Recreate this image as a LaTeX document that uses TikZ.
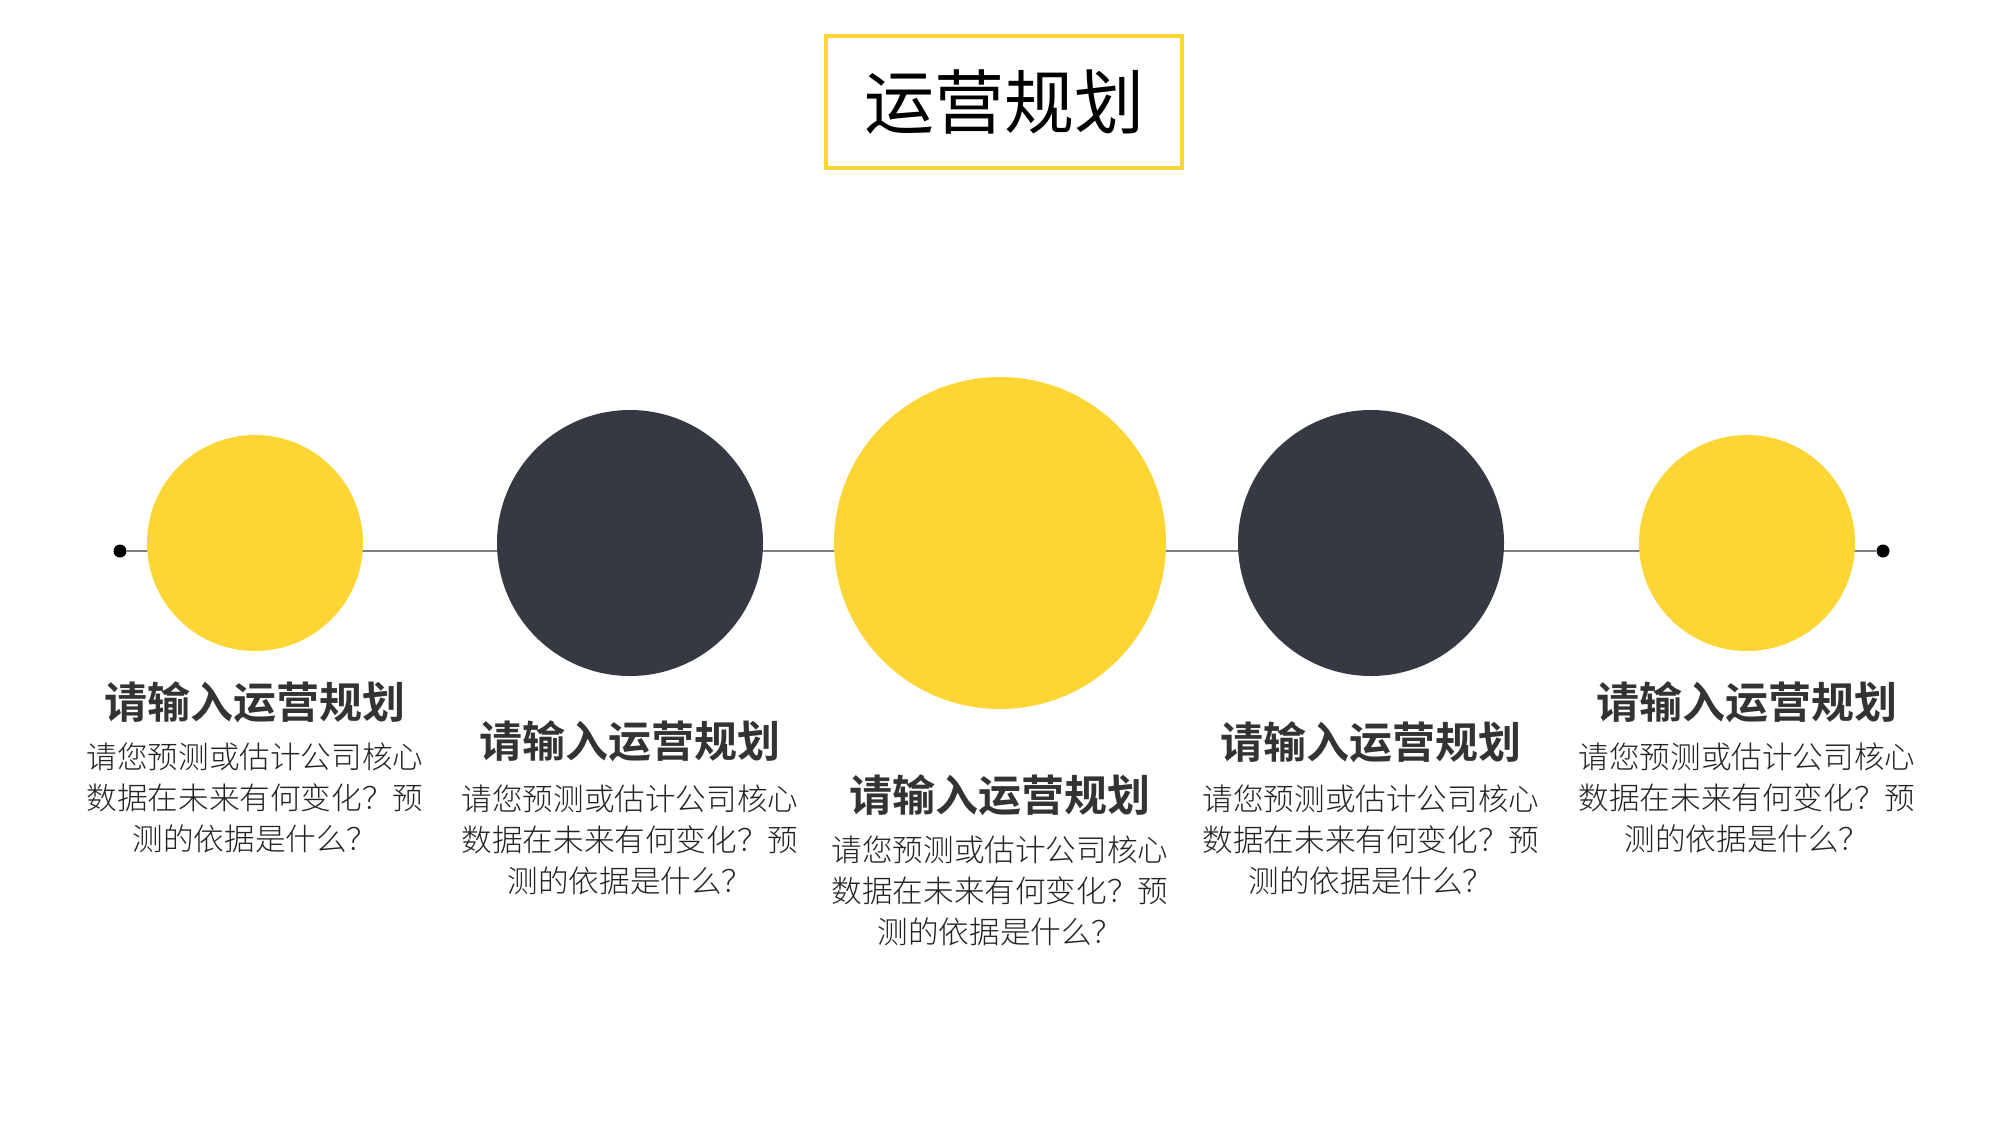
\documentclass[tikz,border=0pt]{standalone}
\usepackage{fontspec}
\newfontfamily\cjk{Noto Sans CJK SC}
\newfontfamily\cjkb{Noto Sans CJK SC Bold}
\newfontfamily\cjkl{Noto Sans CJK SC Light}
\definecolor{ylw}{HTML}{FDD535}
\definecolor{drk}{HTML}{363941}
\definecolor{txt}{HTML}{333333}
\definecolor{btxt}{HTML}{222222}
\definecolor{lne}{HTML}{808080}
\begin{document}
\begin{tikzpicture}[x=0.5pt,y=-0.5pt,
  ball/.style={circle,inner sep=0pt,minimum size=#1},
  headtxt/.style={text=txt,font=\cjkb\fontsize{21.5}{24}\selectfont,inner sep=0pt},
  bodytxt/.style={text=btxt,font=\cjkl\fontsize{15.3}{20.4}\selectfont,align=center,inner sep=0pt,anchor=north},
  endot/.style={circle,fill=black,inner sep=0pt,minimum size=6.5pt}]
\useasboundingbox (0,0) rectangle (2000,1124);
\node[draw=ylw,line width=2pt,minimum width=178pt,minimum height=66pt,inner sep=0pt] (title) at (1004,102)
  {\cjk\fontsize{35}{40}\selectfont 运营规划};
\node[endot] (dl) at (120,551) {};
\node[endot] (dr) at (1883,551) {};
\draw[lne,line width=1pt] (dl) -- (dr);
\node[ball=108pt,fill=ylw] (c1) at (255,543) {};
\node[ball=133pt,fill=drk] (c2) at (630,543) {};
\node[ball=166pt,fill=ylw] (c3) at (1000,543) {};
\node[ball=133pt,fill=drk] (c4) at (1371,543) {};
\node[ball=108pt,fill=ylw] (c5) at (1747,543) {};
% headings
\node[headtxt] (h1) at (255,702) {请输入运营规划};
\node[headtxt] (h2) at (630,741) {请输入运营规划};
\node[headtxt] (h3) at (1000,795) {请输入运营规划};
\node[headtxt] (h4) at (1371,742) {请输入运营规划};
\node[headtxt] (h5) at (1747,702) {请输入运营规划};
% bodies
\node[bodytxt] (b1) at (255,743) {请您预测或估计公司核心\\数据在未来有何变化？预\\测的依据是什么？};
\node[bodytxt] (b2) at (630,785) {请您预测或估计公司核心\\数据在未来有何变化？预\\测的依据是什么？};
\node[bodytxt] (b3) at (1000,836) {请您预测或估计公司核心\\数据在未来有何变化？预\\测的依据是什么？};
\node[bodytxt] (b4) at (1371,785) {请您预测或估计公司核心\\数据在未来有何变化？预\\测的依据是什么？};
\node[bodytxt] (b5) at (1747,743) {请您预测或估计公司核心\\数据在未来有何变化？预\\测的依据是什么？};
\end{tikzpicture}
\end{document}
